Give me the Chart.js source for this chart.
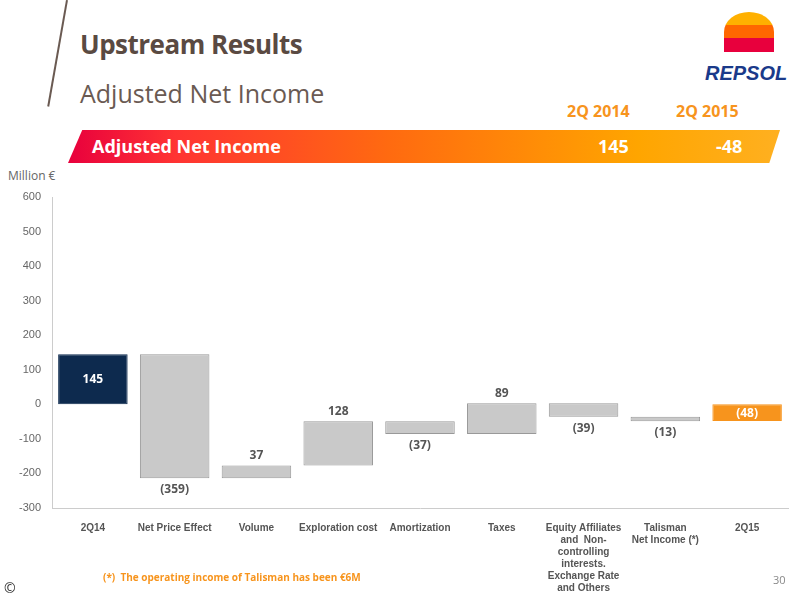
<!DOCTYPE html>
<html><head><meta charset="utf-8">
<script src="https://cdn.jsdelivr.net/npm/chart.js@4"></script>
<style>
body{margin:0;width:800px;height:600px;background:#fff;font-family:'Open Sans',sans-serif;position:relative;overflow:hidden}
.t1{position:absolute;left:80px;top:26px;font:bold 26px 'Open Sans';color:#5a4a42;letter-spacing:-0.5px}
.t2{position:absolute;left:80px;top:76px;font:25px 'Open Sans';color:#6a5a52}
.slash{position:absolute;left:66px;top:0;width:2px;height:108px;background:#6a5a52;transform:rotate(10deg);transform-origin:top left}
.hdr{position:absolute;top:100px;font:bold 16px 'Open Sans';color:#f7941d}
.band{position:absolute;left:68px;top:130px;width:712px;height:33px;background:linear-gradient(90deg,#e8003d 0%,#f33 15%,#ff6a10 45%,#ffa500 80%,#ffb020 100%);clip-path:polygon(2% 0,100% 0,98.5% 100%,0 100%)}
.band span{position:absolute;top:4px;font:bold 18px 'Open Sans';color:#fff}
.logo{position:absolute;left:705px;top:62px;font:italic 900 20px 'Liberation Sans';color:#1a3a8a}
.sun{position:absolute;left:724px;top:12px;width:50px;height:40px;border-radius:50% 50% 0 0;background:linear-gradient(180deg,#ffb000 0 33%,#ff6600 33% 66%,#e8003d 66%)}
.unit{position:absolute;left:8px;top:167px;font:12px 'Open Sans';color:#666}
.note{position:absolute;left:103px;top:570px;font:bold 10px 'Open Sans';color:#f7941d}
.pg{position:absolute;left:773px;top:572px;font:11px 'Open Sans';color:#888}
.c{position:absolute;left:4px;top:578px;font:14px 'Open Sans';color:#333}
#wrap{position:absolute;left:0;top:185px;width:800px;height:415px}
</style></head><body>
<div class="slash"></div>
<div class="t1">Upstream Results</div>
<div class="t2">Adjusted Net Income</div>
<div class="sun"></div><div class="logo">REPSOL</div>
<div class="hdr" style="left:567px">2Q 2014</div><div class="hdr" style="left:676px">2Q 2015</div>
<div class="band"><span style="left:24px">Adjusted Net Income</span><span style="left:530px">145</span><span style="left:648px">-48</span></div>
<div class="unit">Million €</div>
<div id="wrap"><canvas id="c"></canvas></div>
<div class="note">(*)&nbsp; The operating income of Talisman has been €6M</div>
<div class="pg">30</div><div class="c">©</div>
<script>
const categories=[["2Q14"],["Net Price Effect"],["Volume"],["Exploration cost"],["Amortization"],["Taxes"],["Equity Affiliates","and  Non-","controlling","interests.","Exchange Rate","and Others"],["Talisman","Net Income (*)"],["2Q15"]];
const barStart=[0,145,-214,-177,-49,-86,3,-36,0];
const barEnd=[145,-214,-177,-49,-86,3,-36,-49,-48];
const valueLabels=["145","(359)","37","128","(37)","89","(39)","(13)","(48)"];
const colors=['#0d2a4e','#c9c9c9','#c9c9c9','#c9c9c9','#c9c9c9','#c9c9c9','#c9c9c9','#c9c9c9','#f7941d'];
const lbl={id:'lbl',afterDatasetsDraw(ch){const ctx=ch.ctx,m=ch.getDatasetMeta(0),y=ch.scales.y;ctx.save();ctx.font="bold 12px 'Open Sans'";ctx.textAlign='center';
m.data.forEach((b,i)=>{let s=barStart[i],e=barEnd[i],py,col='#555';
if(i==0||i==8){py=y.getPixelForValue((s+e)/2)+4;col='#fff';}
else if(e>s){py=y.getPixelForValue(e)-6;}else{py=y.getPixelForValue(e)+15;}
ctx.fillStyle=col;ctx.fillText(valueLabels[i],b.x,py);});ctx.restore();}};
new Chart(document.getElementById('c'),{type:'bar',data:{labels:categories,datasets:[{data:barStart.map((s,i)=>[s,barEnd[i]]),backgroundColor:colors,borderColor:colors.map((c,i)=>i==0||i==8?c:'#999'),borderWidth:1,categoryPercentage:1,barPercentage:0.85,borderSkipped:false}]},
options:{responsive:true,maintainAspectRatio:false,animation:false,layout:{padding:{top:12,right:12}},plugins:{legend:{display:false},tooltip:{enabled:false}},
scales:{y:{min:-300,max:600,afterFit(s){s.width=52;},ticks:{stepSize:100,color:'#666',font:{size:11}},grid:{display:false},border:{color:'#ccc'}},
x:{ticks:{color:'#555',font:{size:10,weight:'bold'},maxRotation:0,autoSkip:false,padding:6},grid:{display:false},border:{color:'#ccc'}}}},plugins:[lbl]});
</script></body></html>
